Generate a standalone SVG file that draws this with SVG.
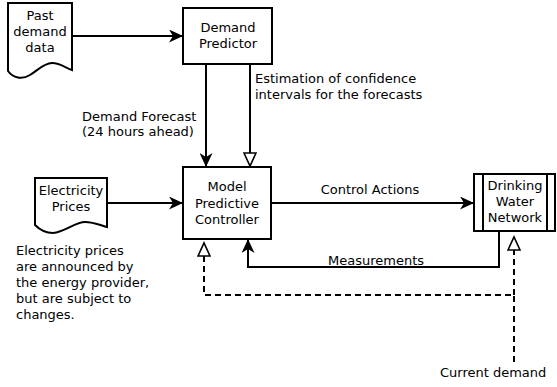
<svg xmlns="http://www.w3.org/2000/svg" width="557" height="387" viewBox="0 0 557 387">
<style>
text{font-family:"DejaVu Sans",sans-serif;font-size:13px;fill:#000}
.c{text-anchor:middle}
.n{fill:#fff;stroke:#000;stroke-width:2}
.e{fill:none;stroke:#000;stroke-width:2}
.d{fill:none;stroke:#000;stroke-width:2;stroke-dasharray:6,4}
</style>
<defs>
<marker id="af" viewBox="0 0 14 13" refX="13" refY="6.5" markerWidth="14" markerHeight="13" markerUnits="userSpaceOnUse" orient="auto">
<path d="M0,0 L14,6.5 L0,13 L4,6.5 Z" fill="#000"/>
</marker>
<marker id="ao" viewBox="-1 -1 16 14" refX="13" refY="6" markerWidth="16" markerHeight="14" markerUnits="userSpaceOnUse" orient="auto">
<path d="M0,0 L13,6 L0,12 Z" fill="#fff" stroke="#000" stroke-width="1.6"/>
</marker>
</defs>
<rect width="557" height="387" fill="#fff"/>
<g id="connectors">
<path class="e" d="M72,36 H182" marker-end="url(#af)"/>
<path class="e" d="M206,64 V166" marker-end="url(#af)"/>
<path class="e" d="M250,64 V166" marker-end="url(#ao)"/>
<path class="e" d="M107,203 H182" marker-end="url(#af)"/>
<path class="e" d="M271,203 H473" marker-end="url(#af)"/>
<path class="e" d="M499,231 V267 H248 V240" marker-end="url(#af)"/>
<path class="d" d="M514,362 V295 H204 V243" marker-end="url(#ao)"/>
<path class="d" d="M514,295 V237" marker-end="url(#ao)"/>
</g>
<g id="past-demand-data">
<path class="n" d="M8,3 H72 V70 C66,68 60,63 52,63 C44,63 38,70 30,75 C22,80 13,78 8,71 Z"/>
<text class="c" x="40" y="20">Past</text>
<text class="c" x="40" y="36">demand</text>
<text class="c" x="40" y="52">data</text>
</g>
<g id="demand-predictor">
<rect class="n" x="183" y="8" width="89" height="56"/>
<text class="c" x="228" y="32">Demand</text>
<text class="c" x="228" y="48">Predictor</text>
</g>
<g id="electricity-prices">
<path class="n" d="M35,178 H107 V227 C100,225 93,222 85,222 C75,222 65,232 53,233 C45,233 39,229 35,225 Z"/>
<text class="c" x="71" y="195">Electricity</text>
<text class="c" x="71" y="211">Prices</text>
</g>
<g id="mpc">
<rect class="n" x="183" y="167" width="88" height="72"/>
<text class="c" x="227" y="191">Model</text>
<text class="c" x="227" y="208">Predictive</text>
<text class="c" x="227" y="224">Controller</text>
</g>
<g id="dwn">
<rect class="n" x="474" y="174" width="81" height="57"/>
<line class="e" x1="483" y1="174" x2="483" y2="231"/>
<line class="e" x1="547" y1="174" x2="547" y2="231"/>
<text class="c" x="515" y="190">Drinking</text>
<text class="c" x="515" y="206">Water</text>
<text class="c" x="515" y="222">Network</text>
</g>
<g id="labels">
<text x="82" y="121">Demand Forecast</text>
<text x="82" y="136">(24 hours ahead)</text>
<text x="255" y="83">Estimation of confidence</text>
<text x="255" y="99">intervals for the forecasts</text>
<text class="c" x="370" y="194">Control Actions</text>
<text class="c" x="376" y="265">Measurements</text>
<text x="16" y="255">Electricity prices</text>
<text x="16" y="271">are announced by</text>
<text x="16" y="287">the energy provider,</text>
<text x="16" y="303">but are subject to</text>
<text x="16" y="319">changes.</text>
<text x="440" y="377">Current demand</text>
</g>
</svg>
